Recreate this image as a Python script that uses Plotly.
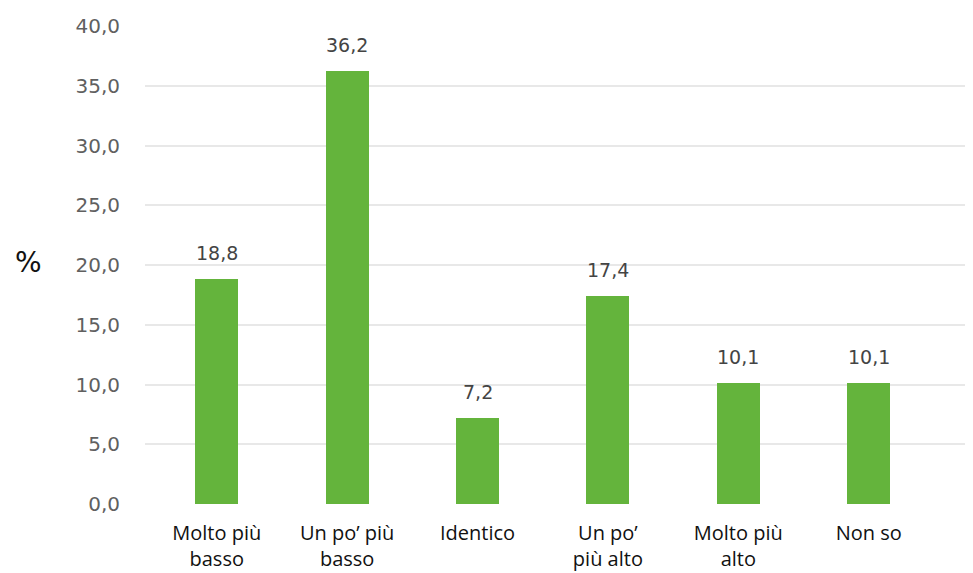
import plotly.graph_objects as go

categories = ["Molto più<br>basso", "Un po’ più<br>basso", "Identico",
              "Un po’<br>più alto", "Molto più<br>alto", "Non so"]
values = [18.8, 36.2, 7.2, 17.4, 10.1, 10.1]
y_ticks = [0, 5, 10, 15, 20, 25, 30, 35, 40]

xs = list(range(len(categories)))

fig = go.Figure()
fig.add_trace(go.Bar(
    x=xs,
    y=values,
    width=0.33,
    marker=dict(color="#64b43c", line=dict(width=0)),
    cliponaxis=False,
))

annos = []
for xi, v in zip(xs, values):
    annos.append(dict(
        x=xi, y=v, xref="x", yref="y", showarrow=False,
        text=f"{v:.1f}".replace(".", ","),
        yanchor="middle", yshift=26,
        font=dict(family="DejaVu Sans", size=19, color="#444444"),
    ))
annos.append(dict(
    text="%", x=-0.1413, y=0.506, xref="paper", yref="paper", showarrow=False,
    xanchor="center", yanchor="middle",
    font=dict(family="DejaVu Sans", size=28, color="#111111"),
))

fig.update_layout(
    width=973, height=573,
    margin=dict(l=137, r=8, t=18, b=77),
    paper_bgcolor="white", plot_bgcolor="white",
    separators=",.",
    showlegend=False,
    bargap=0,
    xaxis=dict(
        range=[-0.55, 5.8],
        tickmode="array",
        tickvals=xs,
        ticktext=categories,
        tickfont=dict(family="Open Sans", size=20, color="#111111"),
        showgrid=False, zeroline=False, showline=False,
        ticks="outside", ticklen=11, tickcolor="rgba(0,0,0,0)",
        automargin=False,
    ),
    yaxis=dict(
        range=[0, 40],
        tickvals=y_ticks,
        tickformat=".1f",
        tickfont=dict(family="DejaVu Sans", size=20, color="#606060"),
        showgrid=True, gridcolor="#e8e8e8", gridwidth=2,
        zeroline=False, showline=False,
        ticks="outside", ticklen=20, tickcolor="rgba(0,0,0,0)",
        automargin=False,
    ),
    annotations=annos,
)

fig.write_html("out.html")
